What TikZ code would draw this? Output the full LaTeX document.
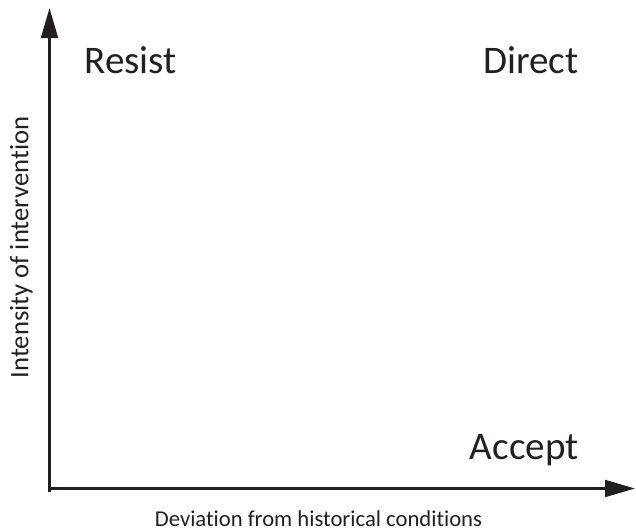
\documentclass[tikz,border=0pt]{standalone}
\usepackage{fontspec}
\setmainfont[Ligatures=NoCommon]{Carlito}
\usetikzlibrary{arrows.meta}

\definecolor{ink}{RGB}{35,31,32}
\tikzset{every picture/.style={line width=0.75pt}}
\tikzset{
  axisline/.style={draw=ink, line width=2.2pt, -{Triangle[length=22.5pt,width=12.5pt]}},
  corner/.style={font=\fontsize{29.3}{34}\selectfont, text=ink, inner sep=0pt},
  axislabel/.style={font=\fontsize{17}{20}\selectfont, text=ink, inner sep=0pt}
}

\begin{document}
\begin{tikzpicture}[x=0.75pt,y=0.75pt,yscale=-1]
  %set diagram frame: 636 x 532
  \useasboundingbox (0,0) rectangle (636,532);

  %Axes
  \coordinate (origin) at (49.5,488.5);
  \coordinate (ybottom) at (49.5,491.5);
  \coordinate (ytip) at (49.5,8);
  \coordinate (xtip) at (635,488.5);
  \draw [axisline] (ybottom) -- (ytip);
  \draw [axisline] (origin) -- (xtip);

  % Text Node
  \node (resist) [corner, anchor=base west] at (84,73) {Resist};
  % Text Node
  \node (direct) [corner, anchor=base east] at (579,73) {Direct};
  % Text Node
  \node (accept) [corner, anchor=base east] at (579,459) {Accept};
  % Text Node
  \node (xlabel) [axislabel, anchor=base] at (318.5,526) {Deviation from historical conditions};
  % Text Node
  \node (ylabel) [axislabel, font=\fontsize{20}{24}\selectfont, anchor=base, rotate=90] at (28.5,247.5) {Intensity of intervention};
\end{tikzpicture}
\end{document}
